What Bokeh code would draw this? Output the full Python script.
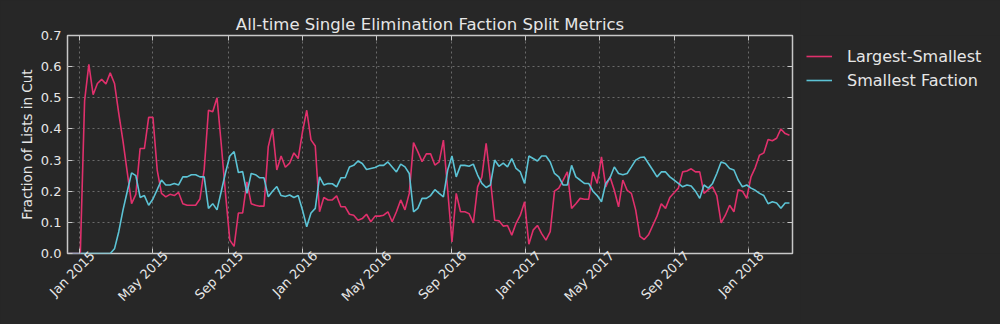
import math
import pandas as pd
from bokeh.plotting import figure
from bokeh.layouts import row
from bokeh.models import (Range1d, DatetimeAxis, LinearAxis, FixedTicker, CustomJSTickFormatter,
                          NumeralTickFormatter, DatetimeTickFormatter, Legend, LegendItem, Grid)
from bokeh.embed import file_html
from bokeh.resources import INLINE

# ---- data (weekly) ----
start_date = "2014-12-12"
largest_smallest = [
    0, 0, 0, 0, 0.49, 0.607, 0.51, 0.546, 0.559, 0.544, 0.58, 0.546, 0.45, 0.36, 0.26, 0.16, 0.19, 0.337, 0.337, 0.437,
    0.437, 0.268, 0.193, 0.182, 0.19, 0.186, 0.196, 0.16, 0.155, 0.155,
    0.155, 0.175, 0.27, 0.46, 0.455, 0.5, 0.35, 0.19, 0.043, 0.023, 0.13, 0.13, 0.23, 0.16, 0.155, 0.152, 0.152, 0.343,
    0.4, 0.268, 0.313, 0.277, 0.29, 0.323, 0.305, 0.39, 0.46, 0.365, 0.345, 0.134,
    0.18, 0.172, 0.172, 0.185, 0.15, 0.15, 0.126, 0.123, 0.107, 0.112, 0.126, 0.102, 0.12, 0.12, 0.123, 0.134, 0.102,
    0.134, 0.172, 0.14, 0.193, 0.356, 0.327, 0.295, 0.32, 0.32, 0.284, 0.294, 0.364, 0.203,
    0.037, 0.193, 0.134, 0.134, 0.128, 0.098, 0.214, 0.246, 0.354, 0.236, 0.107, 0.105, 0.088, 0.09, 0.059, 0.097,
    0.123, 0.166, 0.03, 0.075, 0.09, 0.064, 0.043, 0.07, 0.2, 0.21, 0.235, 0.262, 0.145, 0.16,
    0.177, 0.174, 0.174, 0.262, 0.225, 0.31, 0.214, 0.246, 0.203, 0.15, 0.236, 0.203, 0.193, 0.14, 0.055, 0.045, 0.06,
    0.09, 0.12, 0.16, 0.145, 0.18, 0.195, 0.21, 0.262, 0.265, 0.272, 0.262, 0.262, 0.193,
    0.205, 0.214, 0.186, 0.098, 0.123, 0.155, 0.134, 0.205, 0.2, 0.177, 0.246, 0.276, 0.316, 0.323, 0.366, 0.362,
    0.37, 0.4, 0.385, 0.38,
]
smallest_faction = [
    0, 0, 0, 0, 0, 0, 0, 0, 0, 0, 0, 0.015, 0.07, 0.14, 0.2, 0.259, 0.25, 0.18, 0.186, 0.155,
    0.175, 0.205, 0.236, 0.22, 0.22, 0.225, 0.22, 0.246, 0.246, 0.253,
    0.253, 0.246, 0.246, 0.145, 0.16, 0.14, 0.2, 0.26, 0.313, 0.327, 0.26, 0.263, 0.193, 0.257, 0.253, 0.243, 0.243,
    0.182, 0.2, 0.215, 0.186, 0.183, 0.188, 0.18, 0.186, 0.14, 0.086, 0.13, 0.145, 0.246,
    0.22, 0.225, 0.224, 0.214, 0.243, 0.243, 0.278, 0.283, 0.297, 0.289, 0.27, 0.273, 0.276, 0.283, 0.283, 0.294,
    0.278, 0.262, 0.287, 0.278, 0.257, 0.134, 0.145, 0.177, 0.177, 0.186, 0.205, 0.193, 0.182, 0.268,
    0.313, 0.246, 0.283, 0.283, 0.28, 0.287, 0.252, 0.225, 0.212, 0.22, 0.3, 0.28, 0.29, 0.278, 0.305, 0.273, 0.262,
    0.225, 0.313, 0.305, 0.297, 0.313, 0.313, 0.294, 0.257, 0.246, 0.22, 0.22, 0.283, 0.246,
    0.236, 0.225, 0.225, 0.2, 0.186, 0.166, 0.225, 0.243, 0.278, 0.257, 0.253, 0.257, 0.278, 0.3, 0.308, 0.31, 0.289,
    0.268, 0.246, 0.262, 0.262, 0.246, 0.236, 0.225, 0.214, 0.22, 0.217, 0.2, 0.177, 0.22,
    0.21, 0.225, 0.257, 0.294, 0.289, 0.273, 0.268, 0.236, 0.214, 0.22, 0.21, 0.203, 0.193, 0.186, 0.16, 0.166,
    0.162, 0.145, 0.162, 0.162,
]
series_names = ["Largest-Smallest", "Smallest Faction"]
y_ticks = [0.0, 0.1, 0.2, 0.3, 0.4, 0.5, 0.6, 0.7]
x_tick_dates = ["2015-01-01", "2015-05-01", "2015-09-01", "2016-01-01", "2016-05-01", "2016-09-01",
                "2017-01-01", "2017-05-01", "2017-09-01", "2018-01-01"]

dates = pd.date_range(start_date, periods=len(largest_smallest), freq="7D")
x_tick_ms = [pd.Timestamp(d).value / 1e6 for d in x_tick_dates]

BG = "#272727"
FG = "#e6e6e6"
TICK = "#c8c8c8"
RED = "#e0306c"
CYAN = "#5cc3d5"
FONT = "DejaVu Sans"

W, H = 1000, 324
MAIN_W = 800
ML, MR, MT, MB = 67, 8, 35, 71

x_start, x_end = pd.Timestamp("2014-12-12"), pd.Timestamp("2018-03-14")
# label axis is shifted so that rotated labels sit centred on their ticks (matplotlib style)
label_shift = pd.Timedelta(days=21)

p = figure(width=MAIN_W, height=H, output_backend="svg", toolbar_location=None,
           x_axis_type=None, y_axis_type=None,
           x_range=Range1d(x_start, x_end), y_range=Range1d(0, 0.7),
           min_border_left=ML, min_border_right=MR, min_border_top=MT, min_border_bottom=MB)
p.extra_x_ranges = {"xlab": Range1d(x_start - label_shift, x_end - label_shift)}
p.background_fill_color = BG
p.border_fill_color = BG
p.outline_line_color = TICK
p.outline_line_width = 1.5

p.title.text = "All-time Single Elimination Faction Split Metrics"
p.title.align = "center"
p.title.text_font = FONT
p.title.text_font_size = "16.5px"
p.title.text_font_style = "normal"
p.title.text_color = FG
p.title.standoff = 3

xt = FixedTicker(ticks=x_tick_ms)
yt = FixedTicker(ticks=y_ticks)
blank = CustomJSTickFormatter(code="return ''")


def style_axis(ax, blank_labels=False):
    ax.axis_line_color = None
    ax.major_tick_line_color = TICK
    ax.major_tick_line_width = 1
    ax.major_tick_in = 5
    ax.major_tick_out = 0
    ax.minor_tick_line_color = None
    ax.major_label_text_font = FONT
    ax.major_label_text_color = FG
    ax.major_label_text_font_size = "1px" if blank_labels else "13px"
    ax.axis_label_text_font = FONT
    ax.axis_label_text_color = FG
    ax.axis_label_text_font_style = "normal"
    ax.axis_label_text_font_size = "13.5px"
    if blank_labels:
        ax.major_label_standoff = 0


xb = DatetimeAxis(ticker=xt, formatter=blank)
style_axis(xb, blank_labels=True)
p.add_layout(xb, "below")

xlab = DatetimeAxis(ticker=xt, x_range_name="xlab",
                    formatter=DatetimeTickFormatter(days="%b %Y", months="%b %Y", years="%b %Y"))
style_axis(xlab)
xlab.major_tick_line_color = None
xlab.major_tick_in = 0
xlab.major_label_orientation = math.pi / 4
xlab.major_label_standoff = 0
p.add_layout(xlab, "below")

xa = DatetimeAxis(ticker=xt, formatter=blank)
style_axis(xa, blank_labels=True)
p.add_layout(xa, "above")

yl = LinearAxis(ticker=yt, formatter=NumeralTickFormatter(format="0.0"), axis_label="Fraction of Lists in Cut")
style_axis(yl)
yl.major_label_standoff = 6
yl.axis_label_standoff = 3
p.add_layout(yl, "left")

yr = LinearAxis(ticker=yt, formatter=blank)
style_axis(yr, blank_labels=True)
p.add_layout(yr, "right")

for dim, tk in ((0, xt), (1, yt)):
    g = Grid(dimension=dim, ticker=tk, grid_line_color="#6a6a6a", grid_line_dash="2 3", grid_line_width=1)
    p.add_layout(g, "center")

r1 = p.line(dates, largest_smallest, line_color=RED, line_width=1.6)
r2 = p.line(dates, smallest_faction, line_color=CYAN, line_width=1.6)

# legend panel to the right of the axes (same series, drawn out of view; only the legend shows)
q = figure(width=W - MAIN_W, height=H, output_backend="svg", toolbar_location=None,
           x_axis_type=None, y_axis_type=None, x_range=Range1d(0, 1), y_range=Range1d(0, 1),
           min_border_left=0, min_border_right=0, min_border_top=MT, min_border_bottom=MB)
q.title = None
q.background_fill_color = BG
q.border_fill_color = BG
q.outline_line_color = None
k1 = q.line(dates, largest_smallest, line_color=RED, line_width=1.6)
k2 = q.line(dates, smallest_faction, line_color=CYAN, line_width=1.6)

legend = Legend(items=[LegendItem(label=series_names[0], renderers=[k1]),
                       LegendItem(label=series_names[1], renderers=[k2])],
                location=(6, 163))
legend.background_fill_alpha = 0
legend.border_line_color = None
legend.label_text_font = FONT
legend.label_text_font_size = "16px"
legend.label_text_color = FG
legend.glyph_width = 26
legend.label_standoff = 15
legend.spacing = 4
legend.margin = 0
legend.padding = 6
q.add_layout(legend, "center")

layout = row(p, q, spacing=0, styles={"background-color": BG})
open("out.html", "w").write(file_html(layout, INLINE))
